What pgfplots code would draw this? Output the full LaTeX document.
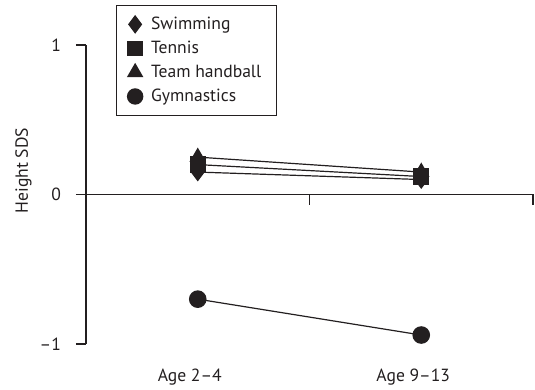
\documentclass[border=0pt]{standalone}
\usepackage{pgfplots}
\pgfplotsset{compat=1.18}
\usepackage{fontspec}
\setmainfont{PT Sans}
\definecolor{ink}{HTML}{231F20}

\begin{document}
\begin{tikzpicture}[font=\fontsize{8.8}{10.5}\selectfont, color=ink]
\useasboundingbox (-43pt,-23pt) rectangle (224.5pt,172pt);
\begin{axis}[
  at={(0,0)}, anchor=south west,
  scale only axis, width=223.5pt, height=149.5pt,
  xmin=0, xmax=2, ymin=-1, ymax=1,
  clip=false,
  axis y line=left, axis x line=bottom,
  axis line style={-},
  x axis line style={draw=none},
  y axis line style={ink, line width=0.6pt},
  xtick={0.5,1.5},
  xticklabels={Age 2\textendash4, Age 9\textendash13},
  xtick style={draw=none},
  xticklabel style={yshift=-3.8pt, xshift=-4pt},
  ytick={-1,0,1},
  yticklabels={\textendash1,0,1},
  tick align=outside,
  major tick length=5pt,
  ytick style={ink, line width=0.6pt},
  yticklabel style={xshift=-4pt},
  ylabel={Height SDS},
  ylabel style={at={(rel axis cs:-0.14,0.58)}, anchor=center},
  every axis plot/.append style={ink, line width=0.6pt},
  legend style={at={(rel axis cs:0.067,1.1338)}, anchor=north west,
    draw=ink, line width=0.6pt, inner xsep=5.5pt, inner ysep=3.5pt,
    row sep=0.3pt, font=\fontsize{8.8}{10.5}\selectfont,
    /tikz/every even column/.append style={column sep=12.5pt}},
  legend image code/.code={
    \path[draw=none, fill=none] (4pt,0pt) -- (12pt,0pt);
    \draw[#1] plot coordinates {(6pt,0pt)};
  },
  legend cell align=left,
]
\draw[ink, line width=0.6pt] (axis cs:0,0) -- (axis cs:2,0);
\draw[ink, line width=0.6pt] (axis cs:1,0) -- ++(0pt,-5.5pt);
\draw[ink, line width=0.6pt] (axis cs:2,0) -- ++(0pt,-5.5pt);

\addplot[mark=triangle*, mark size=4.2pt, forget plot] coordinates {(0.5,0.25)(1.5,0.15)};
\addplot[mark=square*, mark size=3.8pt, forget plot] coordinates {(0.5,0.20)(1.5,0.12)};
\addplot[mark=diamond*, mark size=4.2pt, forget plot] coordinates {(0.5,0.15)(1.5,0.10)};
\addplot[mark=*, mark size=4.1pt, forget plot] coordinates {(0.5,-0.70)(1.5,-0.94)};

\addlegendimage{only marks, mark=diamond*, mark size=4.2pt, ink}
\addlegendentry{Swimming}
\addlegendimage{only marks, mark=square*, mark size=3.6pt, ink}
\addlegendentry{Tennis}
\addlegendimage{only marks, mark=triangle*, mark size=4.2pt, ink}
\addlegendentry{Team handball}
\addlegendimage{only marks, mark=*, mark size=3.8pt, ink}
\addlegendentry{Gymnastics}
\end{axis}
\end{tikzpicture}
\end{document}
